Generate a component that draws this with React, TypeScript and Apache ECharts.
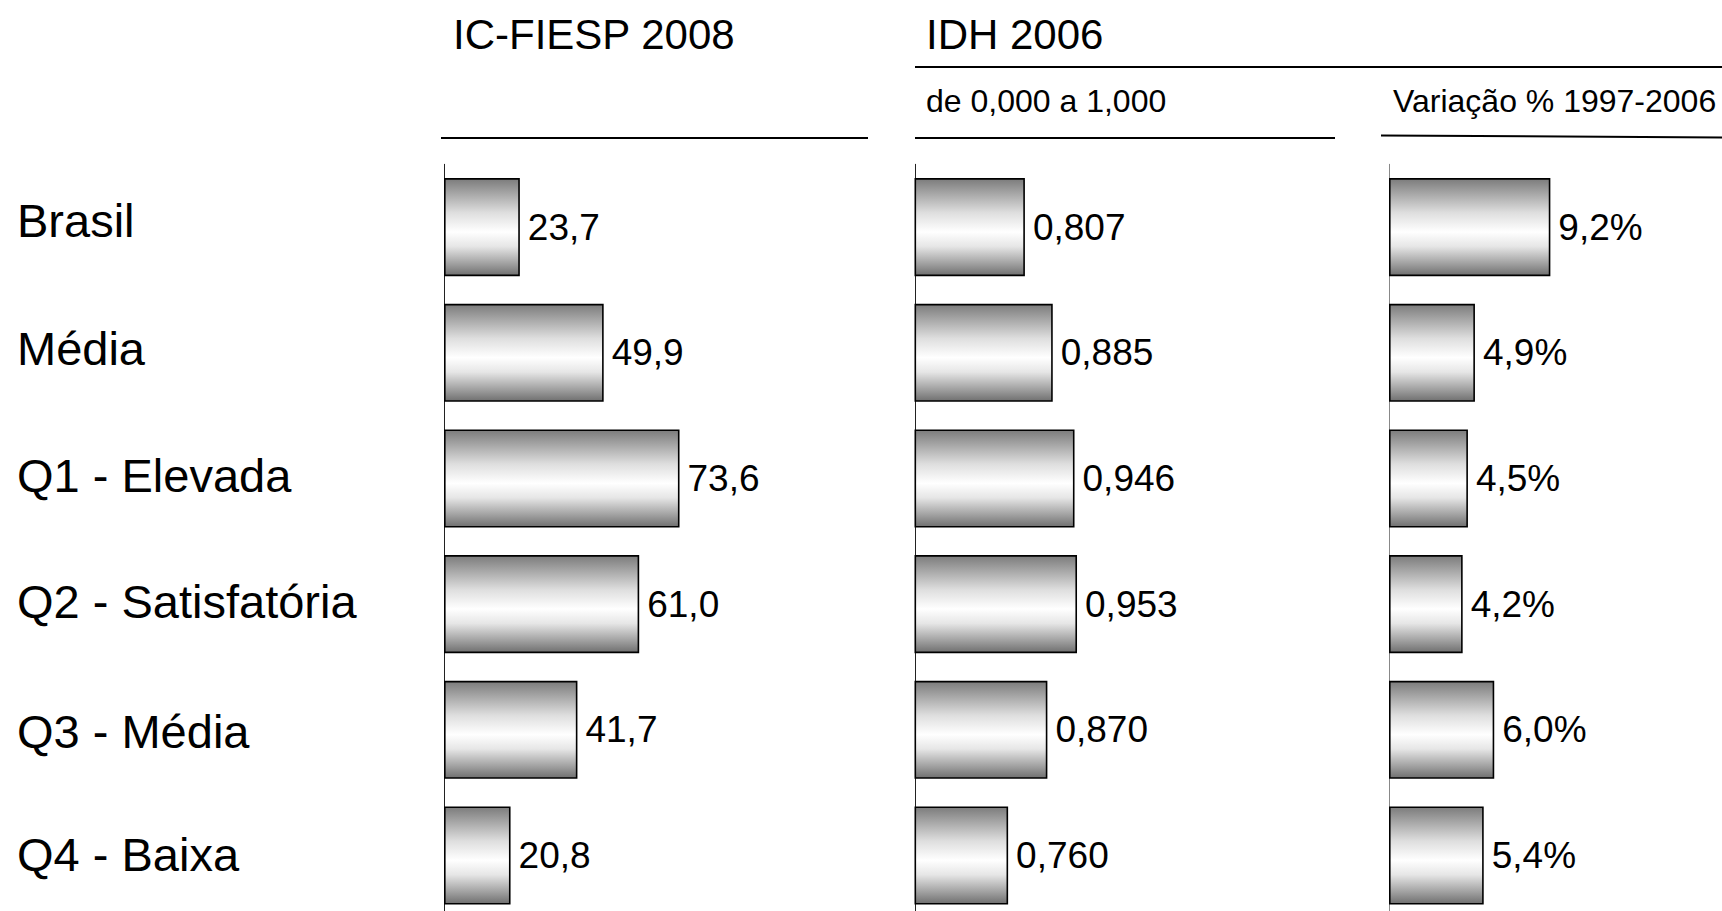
import React, { useEffect, useRef } from "react";
import * as echarts from "echarts";

const categories = ["Brasil", "Média", "Q1 - Elevada", "Q2 - Satisfatória", "Q3 - Média", "Q4 - Baixa"];
const icFiesp2008 = [23.7, 49.9, 73.6, 61.0, 41.7, 20.8];
const idh2006 = [0.807, 0.885, 0.946, 0.953, 0.87, 0.76];
const idhVariacao = [9.2, 4.9, 4.5, 4.2, 6.0, 5.4];

const panelTitles = ["IC-FIESP 2008", "IDH 2006"];
const panelSubtitles = ["de 0,000 a 1,000", "Variação % 1997-2006"];

const FONT = '"Liberation Sans", Arial, sans-serif';

// small vertical nudges of the category labels (style only)
const labelPaddings = [
  [0, 0, 14, 0],
  [0, 0, 9, 0],
  [0, 0, 5, 0],
  [0, 0, 6, 0],
  [3, 0, 0, 0],
  [0, 0, 2, 0],
];

const barFill = new echarts.graphic.LinearGradient(0, 0, 0, 1, [
  { offset: 0, color: "#7c7c7c" },
  { offset: 0.15, color: "#a6a6a6" },
  { offset: 0.35, color: "#dedede" },
  { offset: 0.55, color: "#ffffff" },
  { offset: 0.7, color: "#e6e6e6" },
  { offset: 0.88, color: "#a0a0a0" },
  { offset: 1, color: "#707070" },
]);

export default function App() {
  const ref = useRef<HTMLDivElement>(null);
  useEffect(() => {
    if (!ref.current) return;
    const chart = echarts.init(ref.current, undefined, { renderer: "svg" });
    const top = 164.3;
    const height = 754;
    const grids = [
      { left: 444, top, width: 320, height },
      { left: 915.3, top, width: 178.5, height },
      { left: 1389, top, width: 175.4, height },
    ];
    const xRanges = [
      { min: 0, max: 100 },
      { min: 0.5, max: 1.0 },
      { min: 0, max: 10 },
    ];
    const axisColors = ["#222", "#222", "#888"];
    const datasets = [icFiesp2008, idh2006, idhVariacao];
    const formatters = [
      (v: number) => v.toFixed(1).replace(".", ","),
      (v: number) => v.toFixed(3).replace(".", ","),
      (v: number) => v.toFixed(1).replace(".", ",") + "%",
    ];
    const rich: any = {};
    labelPaddings.forEach((p, k) => {
      rich["r" + k] = { fontSize: 47, fontFamily: FONT, color: "#000", padding: p };
    });

    const option: any = {
      animation: false,
      backgroundColor: "#ffffff",
      grid: grids.map((g) => ({ ...g, containLabel: false })),
      xAxis: xRanges.map((r, i) => ({
        type: "value",
        gridIndex: i,
        min: r.min,
        max: r.max,
        show: false,
        splitLine: { show: false },
      })),
      yAxis: [0, 1, 2].map((i) => ({
        type: "category",
        gridIndex: i,
        data: categories,
        inverse: true,
        axisLine: { show: true, onZero: false, lineStyle: { color: axisColors[i], width: 1 } },
        axisTick: { show: false },
        axisLabel:
          i === 0
            ? {
                show: true,
                align: "left",
                margin: 427,
                fontSize: 47,
                fontFamily: FONT,
                color: "#000",
                formatter: (v: string, idx: number) => `{r${idx}|${v}}`,
                rich,
              }
            : { show: false },
      })),
      series: datasets.map((d, i) => ({
        type: "bar",
        xAxisIndex: i,
        yAxisIndex: i,
        data: d,
        barCategoryGap: "22%",
        itemStyle: { color: barFill, borderColor: "#000", borderWidth: 1.6 },
        label: {
          show: true,
          position: "right",
          distance: 8,
          fontSize: 37,
          fontFamily: FONT,
          color: "#000",
          formatter: (p: any) => formatters[i](p.value),
        },
      })),
      graphic: [
        {
          type: "text",
          x: 453,
          y: 34,
          style: { text: panelTitles[0], fontSize: 42, fontFamily: FONT, fill: "#000", align: "left", verticalAlign: "middle" },
        },
        {
          type: "text",
          x: 926,
          y: 34,
          style: { text: panelTitles[1], fontSize: 42, fontFamily: FONT, fill: "#000", align: "left", verticalAlign: "middle" },
        },
        {
          type: "text",
          x: 926,
          y: 101,
          style: { text: panelSubtitles[0], fontSize: 32, fontFamily: FONT, fill: "#000", align: "left", verticalAlign: "middle" },
        },
        {
          type: "text",
          x: 1393,
          y: 101,
          style: { text: panelSubtitles[1], fontSize: 32, fontFamily: FONT, fill: "#000", align: "left", verticalAlign: "middle" },
        },
        { type: "line", shape: { x1: 915, y1: 67, x2: 1722, y2: 67 }, style: { stroke: "#000", lineWidth: 2 } },
        { type: "line", shape: { x1: 441, y1: 138, x2: 868, y2: 138 }, style: { stroke: "#000", lineWidth: 2 } },
        { type: "line", shape: { x1: 915, y1: 138, x2: 1335, y2: 138 }, style: { stroke: "#000", lineWidth: 2 } },
        { type: "line", shape: { x1: 1381, y1: 135.5, x2: 1722, y2: 137.5 }, style: { stroke: "#000", lineWidth: 2 } },
      ],
    };
    chart.setOption(option);
    return () => chart.dispose();
  }, []);
  return (
    <div
      style={{ position: "absolute", left: 0, top: 0, width: 1722, height: 911, overflow: "hidden", background: "#fff" }}
    >
      <div ref={ref} style={{ width: 1722, height: 930 }} />
    </div>
  );
}
